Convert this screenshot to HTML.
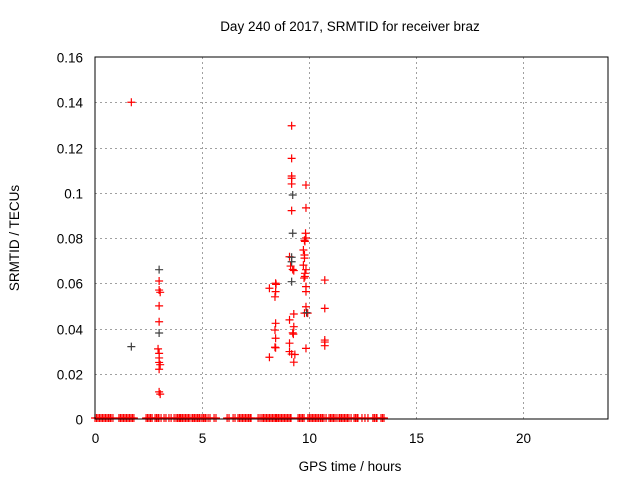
<!DOCTYPE html>
<html><head><meta charset="utf-8"><style>
body{margin:0;background:#fff;}
svg{display:block;font-family:"Liberation Sans",sans-serif;}
</style></head><body>
<svg id="chart" width="640" height="480" xmlns="http://www.w3.org/2000/svg">
<text x="350" y="31" font-size="13.5" text-anchor="middle">Day 240 of 2017, SRMTID for receiver braz</text>
<text x="350" y="471" font-size="13.5" text-anchor="middle">GPS time / hours</text>
<text transform="translate(19,238) rotate(-90)" font-size="13.5" text-anchor="middle">SRMTID / TECUs</text>
<g id="grid"></g><g id="ticks"></g><g id="marks"></g>
<rect x="95" y="57" width="513" height="362" fill="none" stroke="#000" stroke-width="1"/>
</svg>
<script>
const xTicks=[0,5,10,15,20];
const yTicks=[0,0.02,0.04,0.06,0.08,0.1,0.12,0.14,0.16];
const yTickLabels=["0","0.02","0.04","0.06","0.08","0.1","0.12","0.14","0.16"];
const redX=[1.7,9.2,9.2,9.2,9.2,9.2,9.87,9.2,9.87,9.85,9.87,9.8,9.82,9.75,9.8,9.8,9.75,9.1,9.15,9.25,9.3,9.87,9.82,9.82,9.78,8.45,8.47,8.16,8.45,8.42,10.75,9.87,9.87,10.75,9.87,9.8,9.95,9.3,9.1,8.45,8.42,8.45,8.42,8.45,9.3,9.25,9.28,9.1,9.1,9.2,9.35,8.16,9.3,9.87,10.75,10.75,10.75,3.0,3.0,3.05,3.0,3.0,2.95,3.0,3.0,3.0,3.05,3.0,3.0,3.05];
const redY=[0.14,0.1296,0.1152,0.1074,0.1064,0.1039,0.1034,0.0921,0.0933,0.0821,0.080,0.079,0.0785,0.0747,0.0725,0.0711,0.068,0.0717,0.0676,0.0661,0.0656,0.066,0.0644,0.063,0.0623,0.060,0.0595,0.0578,0.0563,0.054,0.0614,0.0585,0.0563,0.0489,0.0496,0.0468,0.0468,0.0464,0.0438,0.0423,0.0393,0.0357,0.0317,0.0315,0.0408,0.0381,0.0375,0.0335,0.0298,0.0287,0.0285,0.0273,0.0251,0.0312,0.0349,0.0340,0.0324,0.061,0.057,0.056,0.05,0.043,0.031,0.029,0.027,0.025,0.024,0.022,0.012,0.011];
const darkX=[1.7,3.0,3.0,9.25,9.25,9.2,9.2,9.2,9.9];
const darkY=[0.032,0.066,0.038,0.099,0.0821,0.0695,0.0715,0.0607,0.047];
const zeroX=[0.0,0.07,0.14,0.21,0.28,0.35,0.42,0.49,0.56,0.63,0.7,0.75,0.84,1.12,1.19,1.26,1.33,1.4,1.47,1.54,1.61,1.68,1.75,1.82,2.39,2.46,2.53,2.6,2.67,2.81,2.88,2.95,2.99,3.09,3.23,3.32,3.46,3.56,3.7,3.79,3.86,3.93,3.98,4.02,4.09,4.16,4.23,4.3,4.37,4.44,4.54,4.58,4.65,4.72,4.79,4.86,4.91,5.0,5.07,5.14,5.19,5.29,5.38,5.57,5.66,6.18,6.27,6.46,6.55,6.69,6.76,6.83,6.9,6.97,7.04,7.11,7.18,7.25,7.3,7.63,7.72,7.81,7.88,7.95,8.02,8.09,8.16,8.23,8.3,8.37,8.44,8.47,8.51,8.58,8.65,8.72,8.79,8.86,8.93,9.0,9.07,9.14,9.17,9.5,9.57,9.64,9.71,9.78,9.96,10.03,10.1,10.17,10.24,10.31,10.38,10.45,10.53,10.57,10.64,10.71,10.81,10.95,11.02,11.09,11.16,11.23,11.32,11.42,11.46,11.53,11.6,11.67,11.74,11.81,11.88,11.98,12.12,12.19,12.26,12.3,12.49,12.63,12.77,13.0,13.07,13.15,13.19,13.38,13.45,13.52];
const X0=95,X1=608,Y0=419,Y1=57;
const xs=v=>X0+(v/24)*(X1-X0);
const ys=v=>Y0-(v/0.16)*(Y0-Y1);
const NS="http://www.w3.org/2000/svg";
function mk(t,a,parent){const e=document.createElementNS(NS,t);for(const k in a)e.setAttribute(k,a[k]);parent.appendChild(e);return e;}
const grid=document.getElementById('grid'),ticks=document.getElementById('ticks'),marks=document.getElementById('marks');
xTicks.forEach(v=>{const x=Math.round(xs(v))+0.5;
 if(v>0){const g=mk('line',{x1:x,x2:x,y1:Y1,y2:Y0,stroke:'#a0a0a0','stroke-dasharray':'2,3'},grid);
 
 }
 const t=mk('text',{x:x,y:Y0+24,'font-size':13.5,'text-anchor':'middle'},ticks);t.textContent=v;
 
 
});
yTicks.forEach((v,i)=>{const y=Math.round(ys(v))+0.5;
 if(v>0&&v<0.16){const g=mk('line',{x1:X0,x2:X1,y1:y,y2:y,stroke:'#a0a0a0','stroke-dasharray':'2,3'},grid);
 
 }
 const t=mk('text',{x:X0-12,y:y+5,'font-size':13.5,'text-anchor':'end'},ticks);t.textContent=yTickLabels[i];
 
 
});
function plus(x,y,c,name){const p=mk('path',{d:`M${x-4},${y}h8M${x},${y-4}v8`,stroke:c,'stroke-width':1.2,fill:'none'},marks);
 
 }
zeroX.forEach(v=>plus(xs(v),Y0-1,'#ff0000','zero-point'));
redX.forEach((v,i)=>plus(xs(v),ys(redY[i]),'#ff0000','data-point'));
darkX.forEach((v,i)=>plus(xs(v),ys(darkY[i]),'#404040','dark-data-point'));
</script>
</body></html>
